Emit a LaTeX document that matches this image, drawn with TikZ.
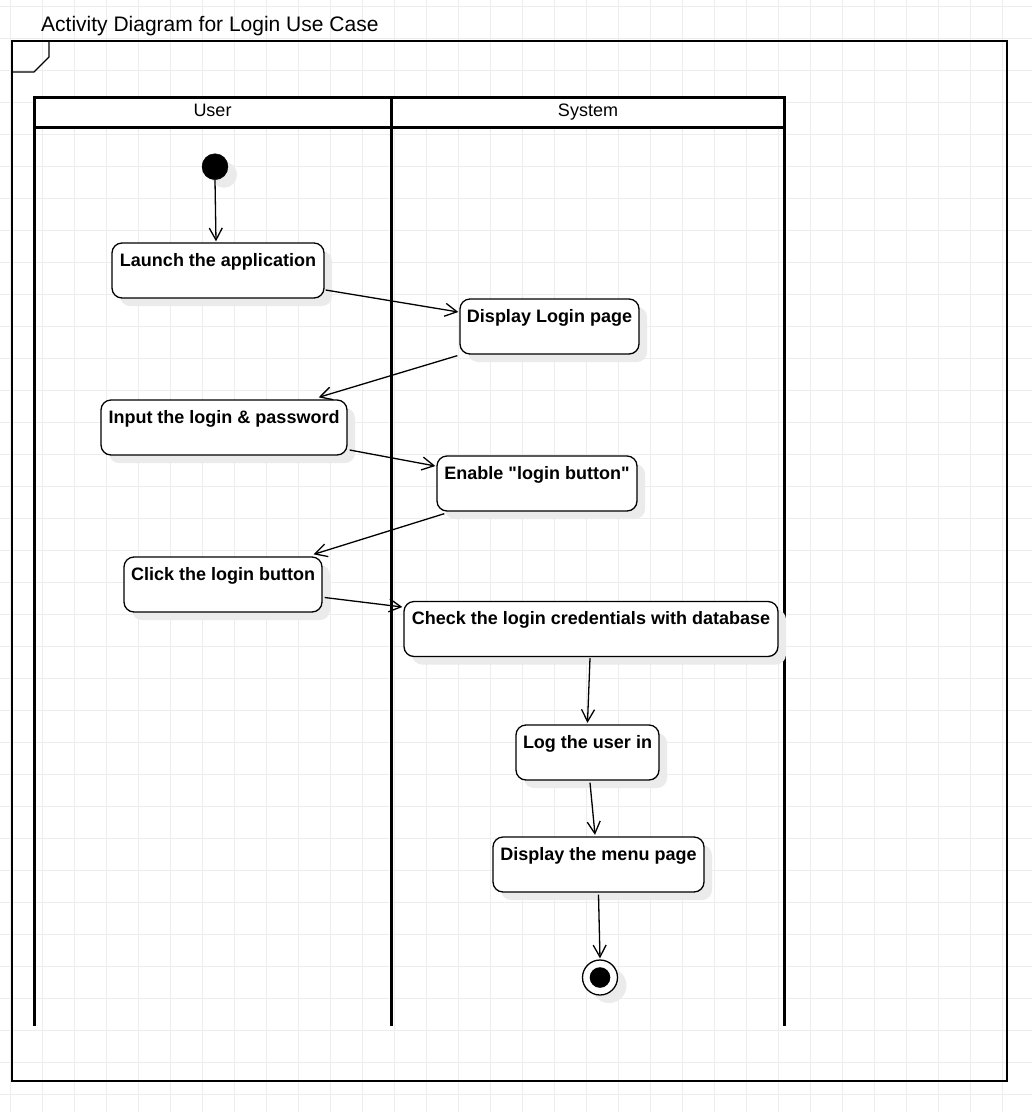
\documentclass[tikz,border=0pt]{standalone}
\usepackage{fontspec}
\setmainfont{Liberation Sans}[Ligatures=TeXOff]
\usetikzlibrary{arrows.meta,calc,shadows}

\tikzset{
  gridline/.style={draw=black!7, line width=0.9pt},
  frameline/.style={draw=black, line width=1.3pt},
  laneline/.style={draw=black, line width=3pt},
  actbox/.style={draw=black, line width=1.3pt, fill=white, rounded corners=10pt,
    font=\fontsize{18}{21}\selectfont\bfseries,
    text height=13pt, text depth=22pt, inner ysep=10pt, inner xsep=0pt,
    drop shadow={shadow xshift=8pt, shadow yshift=-8pt, fill=black!8, draw=none, opacity=1}},
  startdot/.style={circle, fill=black, draw=black, minimum size=26pt, inner sep=0pt,
    drop shadow={shadow xshift=9pt, shadow yshift=-8pt, fill=black!8, draw=none, opacity=1}},
  enddot/.style={circle, fill=white, draw=black, line width=1.3pt, minimum size=35pt, inner sep=0pt,
    drop shadow={shadow xshift=9pt, shadow yshift=-8pt, fill=black!8, draw=none, opacity=1}},
  flow/.style={draw=black, line width=1.3pt, -{Straight Barb[length=12pt,width=13pt,line width=1.3pt]}},
  lanetitle/.style={font=\fontsize{18}{21}\selectfont, anchor=base, inner sep=0pt},
}

\begin{document}
\begin{tikzpicture}[x=1pt, y=-1pt]
  % canvas and background grid
  \useasboundingbox (0,0) rectangle (1032,1112);
  \fill[white] (0,0) rectangle (1032,1112);
  \foreach \i in {0,...,32} {
    \draw[gridline] (10.67+32*\i, 0) -- (10.67+32*\i, 1112);
  }
  \foreach \j in {0,...,34} {
    \draw[gridline] (0, 6+32*\j) -- (1032, 6+32*\j);
  }

  % diagram frame with its name tab
  \node[anchor=base west, inner sep=0pt, font=\fontsize{21}{24}\selectfont] (title) at (41,31.5)
    {Activity Diagram for Login Use Case};
  \draw[frameline] (12,41) rectangle (1007,1081);
  \draw[frameline] (12,72) -- (34,72) -- (49,57) -- (49,41);

  % swimlanes
  \fill[white] (34,97) rectangle (784.5,127);
  \draw[laneline] (34,1026) -- (34,97) -- (784.5,97) -- (784.5,1026);
  \draw[laneline] (391,97) -- (391,1026);
  \draw[laneline] (34,127) -- (784.5,127);
  \node[lanetitle] (userlane) at (212.5,116.7) {User};
  \node[lanetitle] (syslane) at (588,116.7) {System};

  % activities
  \node[startdot] (init) at (215,166.7) {};
  \node[actbox, minimum width=212pt] (launch) at (218,270.5) {Launch the application};
  \node[actbox, minimum width=179pt] (dlogin) at (549.5,326.5) {Display Login page};
  \node[actbox, minimum width=246pt] (input) at (224,427.5) {Input the login \& password};
  \node[actbox, minimum width=200pt] (enable) at (537,483.5) {Enable "login button"};
  \node[actbox, minimum width=198pt] (click) at (223,584.5) {Click the login button};
  \node[actbox, minimum width=374pt] (check) at (591,629) {Check the login credentials with database};
  \node[actbox, minimum width=143pt] (loguser) at (587.5,752.5) {Log the user in};
  \node[actbox, minimum width=211pt] (menu) at (598.5,864.5) {Display the menu page};
  \node[enddot] (final) at (600,977.5) {};
  \fill[black] (final.center) circle (10.3);

  % control flow
  \draw[flow] (init.south) -- ($(launch.north)+(-2,-1)$);
  \draw[flow] ($(launch.east)+(1,19.5)$) -- ($(dlogin.west)+(-1,-14.5)$);
  \draw[flow] ($(dlogin.south west)+(-2,1)$) -- ($(input.north east)+(-29,-2)$);
  \draw[flow] ($(input.east)+(2,22.5)$) -- ($(enable.west)+(-1,-17.5)$);
  \draw[flow] ($(enable.south west)+(8,2)$) -- ($(click.north east)+(-9,-2)$);
  \draw[flow] ($(click.east)+(2,13)$) -- ($(check.west)+(-1,-22)$);
  \draw[flow] ($(check.south)+(-1,1)$) -- ($(loguser.north)+(0,-1.5)$);
  \draw[flow] ($(loguser.south)+(2.5,2)$) -- ($(menu.north)+(-3.5,-1.5)$);
  \draw[flow] ($(menu.south)+(0,2)$) -- ($(final.north)+(0,-1)$);
\end{tikzpicture}
\end{document}
